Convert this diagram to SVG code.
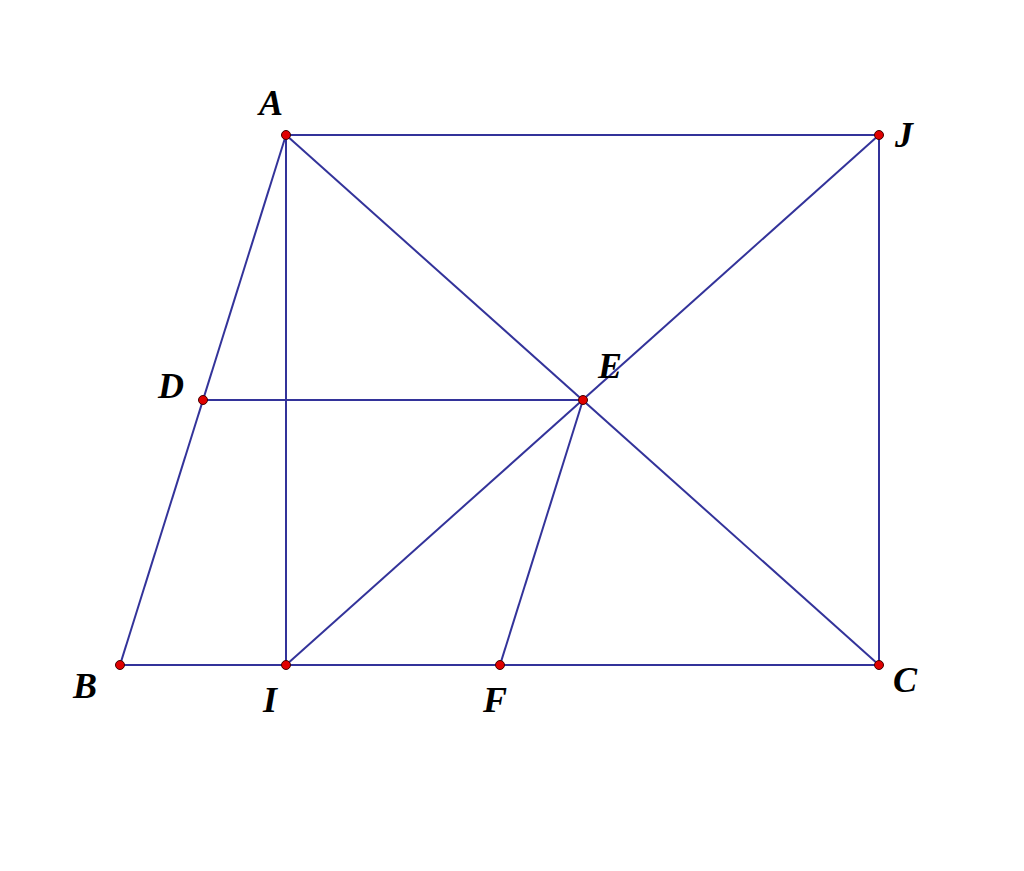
<svg xmlns="http://www.w3.org/2000/svg" width="1024" height="871" viewBox="0 0 1024 871">
<style>
.ln{stroke:#33339a;stroke-width:2;fill:none}
.pt{fill:#e00000;stroke:#400000;stroke-width:1}
.lb{font-family:"Liberation Serif",serif;font-weight:bold;font-style:italic;font-size:36px;fill:#000}
</style>
<rect width="1024" height="871" fill="#fff"/>
<g id="connectors">
<line class="ln" x1="286" y1="135" x2="879" y2="135"/>
<line class="ln" x1="879" y1="135" x2="879" y2="665"/>
<line class="ln" x1="120" y1="665" x2="879" y2="665"/>
<line class="ln" x1="286" y1="135" x2="120" y2="665"/>
<line class="ln" x1="286" y1="135" x2="286" y2="665"/>
<line class="ln" x1="286" y1="135" x2="879" y2="665"/>
<line class="ln" x1="286" y1="665" x2="879" y2="135"/>
<line class="ln" x1="203" y1="400" x2="583" y2="400"/>
<line class="ln" x1="583" y1="400" x2="500" y2="665"/>
</g>
<g id="A"><circle class="pt" cx="286" cy="135" r="4.5"/><text class="lb" x="259" y="115">A</text></g>
<g id="J"><circle class="pt" cx="879" cy="135" r="4.5"/><text class="lb" x="895" y="147">J</text></g>
<g id="D"><circle class="pt" cx="203" cy="400" r="4.5"/><text class="lb" x="158" y="398">D</text></g>
<g id="E"><circle class="pt" cx="583" cy="400" r="4.5"/><text class="lb" x="598" y="378">E</text></g>
<g id="B"><circle class="pt" cx="120" cy="665" r="4.5"/><text class="lb" x="73" y="698">B</text></g>
<g id="I"><circle class="pt" cx="286" cy="665" r="4.5"/><text class="lb" x="263" y="712">I</text></g>
<g id="F"><circle class="pt" cx="500" cy="665" r="4.5"/><text class="lb" x="483" y="712">F</text></g>
<g id="C"><circle class="pt" cx="879" cy="665" r="4.5"/><text class="lb" x="893" y="692">C</text></g>
</svg>
